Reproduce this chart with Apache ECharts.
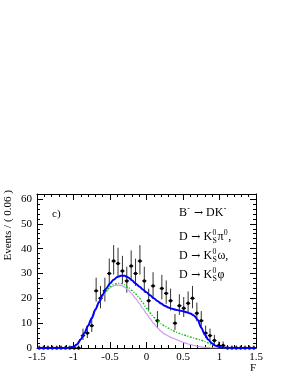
<!DOCTYPE html>
<html><head><meta charset="utf-8">
<script src="https://cdn.jsdelivr.net/npm/echarts@6/dist/echarts.min.js"></script>
<style>html,body{margin:0;padding:0;background:#fff}#c{width:291px;height:376px}</style>
</head><body><div id="c"></div>
<script>
// ---- data ----
const binCenters = [-1.47,-1.41,-1.35,-1.29,-1.23,-1.17,-1.11,-1.05,-0.99,-0.93,
  -0.87,-0.81,-0.75,-0.69,-0.63,-0.57,-0.51,-0.45,-0.39,-0.33,
  -0.27,-0.21,-0.15,-0.09,-0.03,0.03,0.09,0.15,0.21,0.27,
  0.33,0.39,0.45,0.51,0.57,0.63,0.69,0.75,0.81,0.87,
  0.93,0.99,1.05,1.11,1.17,1.23,1.29,1.35,1.41,1.47];
const counts = [0,0,0,0,0,0,0,0,0,0,
  5,6,9,23,20,23,30,35,34,31,
  27,33,30,35,27,19,25,11,24,22,
  19,10,17,16,18,20,14,11,6,5,
  3,1,1,0,0,0,0,0,0,0];
const curveX = [-1.5,-1.1,-1.0,-0.95,-0.9,-0.85,-0.8,-0.75,-0.7,-0.65,-0.6,-0.55,-0.5,-0.45,-0.4,-0.35,-0.3,-0.25,-0.2,-0.15,-0.1,-0.05,0,0.05,0.1,0.15,0.2,0.25,0.3,0.35,0.4,0.45,0.5,0.55,0.6,0.65,0.7,0.75,0.8,0.85,0.9,0.95,1.0,1.05,1.1,1.2,1.5];
const totalFit = [0,0,0.5,1.5,3.5,6,9,12,15.5,18.5,21.5,24,26,27.5,28.6,29.1,29.1,28.4,27.3,26,24.8,23.6,22.4,21.2,20,18.9,17.9,17,16.3,15.8,15.4,15.1,14.8,14.4,13.9,13.1,11.4,8.2,5.3,3.2,1.8,0.9,0.4,0.2,0.1,0,0];
const greenComp = [0,0,0.5,1.5,3.5,6,9,12,15.4,18.3,21.2,23.2,24.7,25.6,26,26,25.4,24.4,23.2,21.8,20.1,18.1,16,14.1,12.4,11,9.8,8.8,8,7.2,6.5,5.9,5.4,4.9,4.4,4,3.6,3.1,2.6,2,1.4,0.8,0.4,0.15,0.05,0,0];
const violetComp = [0,0,0.5,1.5,3.5,6,9,12,15.4,18.2,21,22.8,24.2,25,25.3,25.2,24.5,23.3,21.8,20,18,15.9,13.8,11.8,9.8,8.1,6.7,5.6,4.8,4.1,3.5,2.9,2.3,1.8,1.4,1.0,0.7,0.45,0.25,0.12,0.05,0,0,0,0,0,0];
const xTicks = [-1.5,-1,-0.5,0,0.5,1,1.5];
const yTicks = [0,10,20,30,40,50,60];

// ---- build ----
const FONT = '"Liberation Serif","Times New Roman",serif';
const ARROWFONT = '"DejaVu Serif",serif';
const chart = echarts.init(document.getElementById('c'), null, {renderer:'canvas'});
const points = binCenters.map((x,i)=>{
  const n = counts[i];
  const s = Math.sqrt(n+0.25);
  return [x, n, Math.max(0, n-(s-0.5)), n+(s+0.5)];
});
const halfBin = 0.03;

const axisCommonX = {
  type:'value', min:-1.5, max:1.5, interval:0.5,
  axisLine:{show:true, onZero:false, lineStyle:{color:'#000',width:1}},
  splitLine:{show:false},
  minorTick:{show:true, splitNumber:5, length:3, lineStyle:{color:'#000'}},
  axisTick:{show:true, inside:true, length:6, lineStyle:{color:'#000'}},
};
const yMajor = (pos, labels)=>({
  type:'value', min:0, max:62, interval:10, position:pos,
  axisLine:{show:true, onZero:false, lineStyle:{color:'#000',width:1}},
  splitLine:{show:false},
  axisTick:{show:true, inside:true, length:6, lineStyle:{color:'#000'}},
  axisLabel:{show:labels, color:'#000', fontFamily:FONT, fontSize:11, margin:5,
    formatter:v=> yTicks.indexOf(v)>=0 ? String(v) : ''}
});
const yMinor = (pos)=>({
  type:'value', min:0, max:62, interval:2, position:pos,
  axisLine:{show:false, onZero:false}, splitLine:{show:false}, axisLabel:{show:false},
  axisTick:{show:true, inside:true, length:3, lineStyle:{color:'#000'}}
});

// text measuring for sub/superscript layout
const mctx = document.createElement('canvas').getContext('2d');
function tw(t, size, f){ mctx.font = size+'px '+(f||FONT); return mctx.measureText(t).width; }
const MAIN = 12, SCR = 7.8;
function latex(x, y, parts){
  const els = [];
  let cx = x;
  parts.forEach(p=>{
    const [t, kind] = p;
    if (kind==='n'){
      els.push({type:'text', x:cx, y:y, style:{text:t, font:MAIN+'px '+FONT, fill:'#000', textVerticalAlign:'middle'}});
      cx += tw(t, MAIN);
    } else if (kind==='arrow'){
      cx += 3.5;
      els.push({type:'text', x:cx, y:y, style:{text:'\u2192', font:'11px '+ARROWFONT, fill:'#000', textVerticalAlign:'middle'}});
      cx += tw('\u2192', 11, ARROWFONT) + 3;
    } else if (kind==='sup'){
      els.push({type:'text', x:cx+0.3, y:y-4.2, style:{text:t, font:SCR+'px '+FONT, fill:'#000', textVerticalAlign:'middle'}});
      cx += tw(t, SCR)+0.8;
    } else if (kind==='ss'){
      const [a,b] = t.split('|');
      els.push({type:'text', x:cx+0.4, y:y-4.2, style:{text:a, font:SCR+'px '+FONT, fill:'#000', textVerticalAlign:'middle'}});
      els.push({type:'text', x:cx+0.4, y:y+3.6, style:{text:b, font:SCR+'px '+FONT, fill:'#000', textVerticalAlign:'middle'}});
      cx += Math.max(tw(a,SCR), tw(b,SCR))+1;
    }
  });
  return els;
}
const legendEls = [].concat(
  latex(179, 213, [['B','n'],['-','sup'],['','arrow'],['DK','n'],['-','sup']]),
  latex(179, 237, [['D','n'],['','arrow'],['K','n'],['0|S','ss'],['\u03c0','n'],['0','sup'],[',','n']]),
  latex(179, 256, [['D','n'],['','arrow'],['K','n'],['0|S','ss'],['\u03c9,','n']]),
  latex(179, 275, [['D','n'],['','arrow'],['K','n'],['0|S','ss'],['\u03c6','n']])
);

const option = {
  animation:false,
  backgroundColor:'#fff',
  grid:{left:37, right:35, top:194, bottom:28, containLabel:false},
  xAxis:[
    Object.assign({}, axisCommonX, {position:'bottom',
      axisLabel:{color:'#000', fontFamily:FONT, fontSize:11, margin:4,
        formatter:v=> xTicks.indexOf(v)>=0 ? String(v) : ''}}),
    Object.assign({}, axisCommonX, {position:'top', axisLabel:{show:false}})
  ],
  yAxis:[ yMajor('left', true), yMinor('left'), yMajor('right', false), yMinor('right') ],
  series:[
    {
      type:'custom', xAxisIndex:0, yAxisIndex:0, z:2,
      data:points,
      renderItem:function(params, api){
        const x=api.value(0), y=api.value(1), lo=api.value(2), hi=api.value(3);
        const c=api.coord([x,y]);
        const pLo=api.coord([x,lo]), pHi=api.coord([x,hi]);
        const pL=api.coord([x-halfBin,y]), pR=api.coord([x+halfBin,y]);
        return {type:'group', children:[
          {type:'line', shape:{x1:c[0],y1:pLo[1],x2:c[0],y2:pHi[1]}, style:{stroke:'#333',lineWidth:1}},
          {type:'line', shape:{x1:pL[0],y1:c[1],x2:pR[0],y2:c[1]}, style:{stroke:'#000',lineWidth:1}},
          {type:'circle', shape:{cx:c[0],cy:c[1],r:1.7}, style:{fill:'#000'}}
        ]};
      }
    },
    {type:'line', xAxisIndex:0, yAxisIndex:0, z:3, showSymbol:false, smooth:0.3, smoothMonotone:'x',
      data:curveX.map((x,i)=>[x,violetComp[i]]), lineStyle:{color:'#c79cf5', width:1.2}},
    {type:'line', xAxisIndex:0, yAxisIndex:0, z:4, showSymbol:false, smooth:0.3, smoothMonotone:'x',
      data:curveX.map((x,i)=>[x,greenComp[i]]), lineStyle:{color:'#10c010', width:1.4, type:[2,1.5,1,1.5]}},
    {type:'line', xAxisIndex:0, yAxisIndex:0, z:5, showSymbol:false, smooth:0.3, smoothMonotone:'x',
      data:curveX.map((x,i)=>[x,totalFit[i]]), lineStyle:{color:'#0000ff', width:2}}
  ],
  graphic:[
    {type:'text', x:8.5, y:190, rotation:Math.PI/2,
      style:{text:'Events / ( 0.06 )', font:'11px '+FONT, fill:'#000', textAlign:'right', textVerticalAlign:'middle'}},
    {type:'text', x:256, y:368, style:{text:'F', font:'11px '+FONT, fill:'#000', textAlign:'right', textVerticalAlign:'middle'}},
    {type:'text', x:52, y:214, style:{text:'c)', font:'11px '+FONT, fill:'#000', textVerticalAlign:'middle'}}
  ].concat(legendEls)
};
chart.setOption(option);
</script>
</body></html>
